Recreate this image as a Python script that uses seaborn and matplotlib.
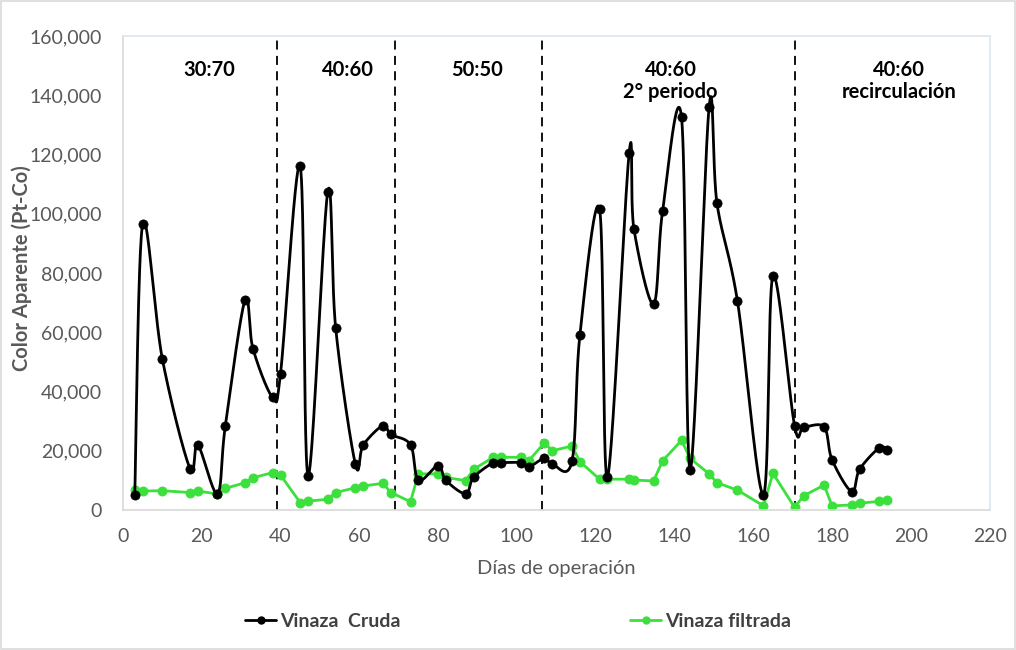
import numpy as np
import matplotlib
matplotlib.use("Agg")
import matplotlib.pyplot as plt
from matplotlib.lines import Line2D
from matplotlib.patches import Rectangle
from matplotlib.ticker import FuncFormatter
import seaborn as sns

# Días de operación (muestreos)
dias = [3, 5, 10, 17, 19, 24, 26, 31, 33, 38,
        40, 45, 47, 52, 54, 59, 61, 66, 68, 73,
        75, 80, 82, 87, 89, 94, 96, 101, 103, 107,
        109, 114, 116, 121, 123, 128.5, 129.7, 134.7, 137, 141.8,
        144, 148.8, 150.8, 156, 162.6, 165, 170.5, 172.8, 178, 180,
        185, 187, 192, 194]

# Color aparente (Pt-Co)
vinaza_cruda = [5000, 96500, 51000, 14000, 22000, 5500, 28500, 71000, 54500, 38000,
                46000, 116000, 11500, 107500, 61500, 15500, 22000, 28500, 25500, 22000,
                10000, 15000, 10000, 5500, 11000, 16000, 16000, 16000, 14500, 17500,
                15500, 16500, 59000, 101500, 11000, 120500, 95000, 69500, 101000, 132500,
                13500, 136000, 103500, 70500, 5200, 79000, 28400, 28000, 28000, 17000,
                6200, 13700, 21000, 20300]

vinaza_filtrada = [6700, 6400, 6500, 5900, 6400, 5400, 7300, 9200, 10900, 12600,
                   11800, 2500, 3000, 3600, 5900, 7500, 8100, 9000, 5900, 2800,
                   12200, 12200, 11000, 9900, 13700, 17800, 17800, 17800, 16600, 22700,
                   20000, 21600, 16300, 10400, 10400, 10400, 10100, 9800, 16600, 23500,
                   17400, 12200, 9200, 6700, 1400, 12400, 900, 4800, 8400, 1400,
                   1700, 2300, 2900, 3400]

# Cambios de proporción y etiquetas de cada periodo
cambios = [39, 69, 106.5, 170.5]
periodos = ["30:70", "40:60", "50:50", "40:60\n2° periodo", "40:60\nrecirculación"]
pos_periodos = [22, 57, 90, 139, 197]

x_ticks = list(range(0, 221, 20))
y_ticks = list(range(0, 160001, 20000))


def suavizar(x, y, n=40):
    """Curva Bézier cúbica por los puntos (suavizado tipo hoja de cálculo)."""
    P = np.column_stack([x, y]).astype(float)
    t = np.linspace(0, 1, n)[:, None]
    tramos = []
    for i in range(len(P) - 1):
        p0 = P[i - 1] if i > 0 else P[i]
        p1, p2 = P[i], P[i + 1]
        p3 = P[i + 2] if i + 2 < len(P) else P[i + 1]
        c1 = p1 + (p2 - p0) / 6.0
        c2 = p2 - (p3 - p1) / 6.0
        seg = (1 - t) ** 3 * p1 + 3 * (1 - t) ** 2 * t * c1 + 3 * (1 - t) * t ** 2 * c2 + t ** 3 * p2
        tramos.append(seg if i == 0 else seg[1:])
    return np.vstack(tramos)


sns.set_theme(style="white")
plt.rcParams["font.family"] = ["Lato", "DejaVu Sans"]

verde = "#3ce03c"
gris_txt = "#595959"

fig = plt.figure(figsize=(10.16, 6.5), dpi=100)
ax = fig.add_axes([0.121, 0.2154, 0.853, 0.7292])

# Líneas divisorias entre periodos
for c in cambios:
    ax.plot([c, c], [0, 160000], color="black", lw=1.3, ls=(0, (5, 3.5)), zorder=1)

# Vinaza cruda: línea suavizada + marcadores
curva = suavizar(dias, vinaza_cruda)
sns.lineplot(x=curva[:, 0], y=curva[:, 1], sort=False, estimator=None,
             color="black", lw=2.0, ax=ax, zorder=3)
sns.scatterplot(x=dias, y=vinaza_cruda, color="black", s=44, edgecolor="black",
                linewidth=0.5, ax=ax, zorder=4)

# Vinaza filtrada
sns.lineplot(x=dias, y=vinaza_filtrada, sort=False, estimator=None, color=verde,
             lw=2.0, marker="o", markersize=6.4, markeredgecolor=verde,
             ax=ax, zorder=2)

for txt, xp in zip(periodos, pos_periodos):
    ax.text(xp, 152000, txt, ha="center", va="top", fontsize=14.5, fontweight="bold",
            color="black", linespacing=1.15)

ax.set_xlim(0, 220)
ax.set_ylim(0, 160000)
ax.set_xticks(x_ticks)
ax.set_yticks(y_ticks)
ax.yaxis.set_major_formatter(FuncFormatter(lambda v, p: f"{int(v):,}"))
ax.tick_params(axis="both", length=0, colors=gris_txt)
ax.tick_params(axis="y", pad=15, labelsize=14)
ax.tick_params(axis="x", pad=13, labelsize=14)

ax.set_xlabel("Días de operación", fontsize=14.5, color=gris_txt, labelpad=11)
ax.set_ylabel("Color Aparente (Pt-Co)", fontsize=14.5, color=gris_txt,
              fontweight="bold")
ax.yaxis.set_label_coords(-0.105, 0.51)

for s in ["left", "bottom"]:
    ax.spines[s].set_color("#d9d9d9")
    ax.spines[s].set_linewidth(1.2)
for s in ["top", "right"]:
    ax.spines[s].set_color("#dbe5f1")
    ax.spines[s].set_linewidth(1.2)
ax.grid(False)

# Leyenda inferior
h1 = Line2D([0], [0], color="black", lw=2.0, marker="o", markersize=5)
h2 = Line2D([0], [0], color=verde, lw=2.0, marker="o", markersize=5)
leg = fig.legend([h1, h2], ["Vinaza  Cruda", "Vinaza filtrada"], ncol=2,
                 loc="center", bbox_to_anchor=(0.51, 0.044), frameon=False,
                 handlelength=1.6, handletextpad=0.2, columnspacing=11.8,
                 prop={"size": 14, "weight": "bold"})
for t in leg.get_texts():
    t.set_color("#404040")

# Marco del gráfico
fig.patches.append(Rectangle((0.001, 0.001), 0.998, 0.998, transform=fig.transFigure,
                             fill=False, edgecolor="#d9d9d9", lw=1.2))

fig.savefig("out.png", dpi=100)
